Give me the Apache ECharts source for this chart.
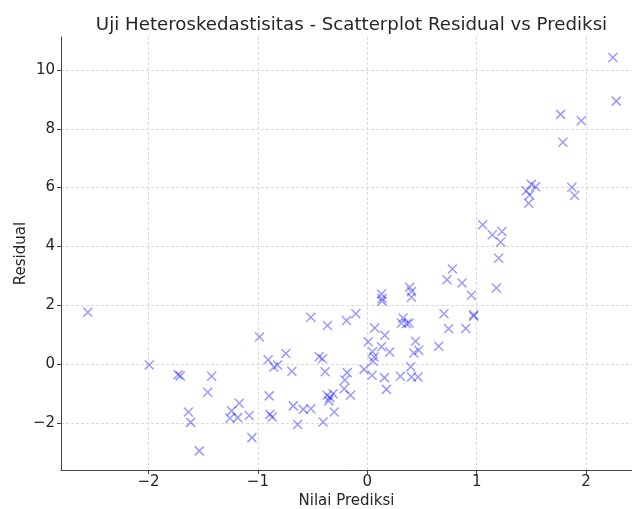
<!DOCTYPE html>
<html>
<head>
<meta charset="utf-8">
<script src="https://cdn.jsdelivr.net/npm/echarts@6/dist/echarts.min.js"></script>
<style>html,body{margin:0;padding:0;background:#fff}#c{width:632px;height:509px}</style>
</head>
<body>
<div id="c"></div>
<script>
const prediksi = [-2.555,-1.993,-1.73,-1.71,-1.423,-1.459,-1.636,-1.615,-1.536,-1.171,-1.240,-1.256,-1.185,-1.079,-1.055,-0.985,-0.906,-0.854,-0.820,-0.744,-0.689,-0.516,-0.364,-0.190,-0.105,-0.440,-0.409,-0.385,-0.184,-0.205,-0.212,-0.153,-0.897,-0.890,-0.869,-0.677,-0.586,-0.516,-0.637,-0.404,-0.303,-0.367,-0.342,-0.312,-0.352,-0.029,0.008,0.047,0.062,0.053,0.044,0.068,0.130,0.135,0.135,0.130,0.160,0.205,0.157,0.175,0.303,0.397,0.404,0.464,0.440,0.425,0.470,0.327,0.312,0.358,0.382,0.388,0.404,0.404,0.653,0.701,0.744,0.729,0.778,0.866,0.951,0.973,0.973,0.900,1.055,1.143,1.231,1.219,1.201,1.18,1.500,1.539,1.454,1.484,1.475,1.870,1.895,1.767,1.788,1.956,2.245,2.276];
const residual = [1.76,-0.03,-0.36,-0.40,-0.41,-0.96,-1.63,-1.98,-2.95,-1.33,-1.59,-1.84,-1.82,-1.75,-2.50,0.92,0.15,-0.10,-0.03,0.36,-0.24,1.59,1.31,1.48,1.71,0.25,0.18,-0.26,-0.29,-0.54,-0.84,-1.06,-1.08,-1.71,-1.80,-1.42,-1.54,-1.52,-2.05,-1.97,-1.63,-1.06,-1.14,-1.01,-1.25,-0.18,0.76,0.42,0.24,0.10,-0.38,1.23,2.38,2.23,2.14,0.59,0.98,0.41,-0.46,-0.86,-0.41,-0.09,-0.44,-0.44,0.78,0.38,0.47,1.57,1.40,1.37,1.40,2.61,2.47,2.27,0.61,1.71,1.20,2.87,3.23,2.76,2.34,1.68,1.63,1.21,4.74,4.40,4.51,4.15,3.60,2.59,6.11,6.03,5.89,5.75,5.47,6.01,5.73,8.49,7.54,8.27,10.42,8.94];
const xTicks = [-2,-1,0,1,2];
const yTicks = [-2,0,2,4,6,8,10];

const data = prediksi.map((x,i)=>[x,residual[i]]);
const fmt = v => (v<0?'\u2212':'')+Math.abs(v);
const font = 'DejaVu Sans';
const chart = echarts.init(document.getElementById('c'), null, {renderer:'canvas'});
chart.setOption({
  animation:false,
  backgroundColor:'#fff',
  title:{text:'Uji Heteroskedastisitas - Scatterplot Residual vs Prediksi', left:346.5, top:11, textAlign:'center',
    textStyle:{fontFamily:font,fontSize:18.2,fontWeight:'normal',color:'#262626'}},
  grid:{left:61,top:37,right:0,bottom:39,containLabel:false,outerBoundsMode:'none'},
  xAxis:{type:'value',min:-2.8,max:2.42,name:'Nilai Prediksi',nameLocation:'middle',nameGap:24,nameMoveOverlap:false,
    nameTextStyle:{fontFamily:font,fontSize:15,color:'#262626'},
    axisLine:{onZero:false,lineStyle:{color:'#444',width:1}},
    axisTick:{show:true,length:4,customValues:xTicks,lineStyle:{color:'#444'}},
    axisLabel:{customValues:xTicks,formatter:fmt,fontFamily:font,fontSize:15,color:'#262626',margin:5},
    splitLine:{show:true,lineStyle:{color:'#d0d0d0',type:[3,2],width:0.8}}},
  yAxis:{type:'value',min:-3.6,max:11.12,name:'Residual',nameLocation:'middle',nameGap:32,nameRotate:90,nameMoveOverlap:false,
    nameTextStyle:{fontFamily:font,fontSize:15,color:'#262626'},
    axisLine:{show:true,onZero:false,lineStyle:{color:'#444',width:1}},
    axisTick:{show:true,length:4,customValues:yTicks,lineStyle:{color:'#444'}},
    axisLabel:{customValues:yTicks,formatter:fmt,fontFamily:font,fontSize:15,color:'#262626',margin:6},
    splitLine:{show:true,lineStyle:{color:'#d0d0d0',type:[3,2],width:0.8}}},
  series:[{type:'scatter',data:data,symbol:'path://M0,0L10,10M10,0L0,10',symbolSize:9,
    itemStyle:{color:'none',borderColor:'rgba(0,0,255,0.5)',borderWidth:1.5}}]
});
</script>
</body>
</html>
